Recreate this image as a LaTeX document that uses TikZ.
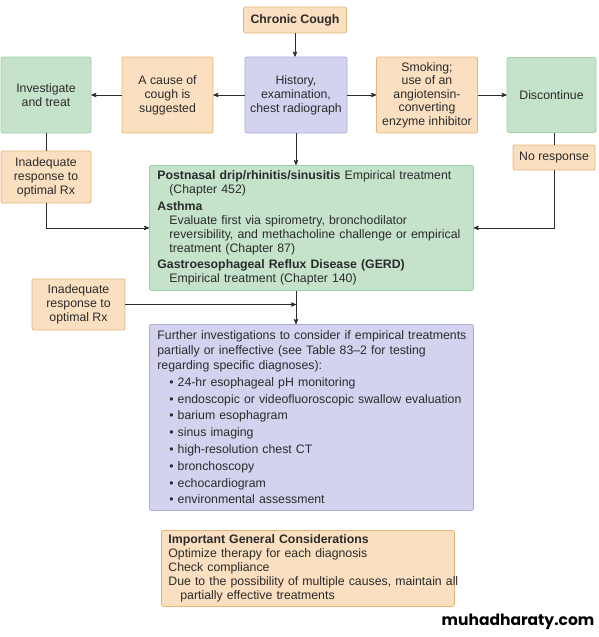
\documentclass[tikz,border=0pt]{standalone}
\usepackage{fontspec}
\setmainfont{Liberation Sans}
\newfontfamily\wmfont{Poppins}
\usetikzlibrary{positioning, arrows, shapes}
\definecolor{peach}{HTML}{FADFC0}
\definecolor{peachline}{HTML}{E5B57E}
\definecolor{mint}{HTML}{C5E3CB}
\definecolor{mintline}{HTML}{A3CFAD}
\definecolor{lilac}{HTML}{D3D3EF}
\definecolor{lilacline}{HTML}{ABABD6}
\definecolor{ink}{HTML}{2B2B2B}
\tikzset{>=stealth',
  box/.style={rounded corners=2pt, line width=0.8pt, text=ink, inner sep=0pt, align=center, font=\fontsize{12.3}{14}\selectfont},
  peachbox/.style={box, draw=peachline, fill=peach},
  mintbox/.style={box, draw=mintline, fill=mint},
  lilacbox/.style={box, draw=lilacline, fill=lilac},
  link/.style={draw=ink, line width=0.8pt}}

\begin{document}
\begin{tikzpicture}[x=1pt, y=-1pt]
    \useasboundingbox (0,0) rectangle (598,637);
    % top row
    \node[peachbox, minimum width=103pt, minimum height=26pt] (cough) at (295,20) {\bfseries Chronic Cough};
    \node[lilacbox, minimum width=102pt, minimum height=76pt] (history) at (296,95) {History,\\examination,\\chest radiograph};
    \node[peachbox, minimum width=91pt, minimum height=76pt] (cause) at (167.5,95) {A cause of\\cough is\\suggested};
    \node[mintbox, minimum width=90pt, minimum height=76pt] (treat) at (46,95) {Investigate\\and treat};
    \node[peachbox, minimum width=101pt, minimum height=76pt, font=\fontsize{12.3}{13.5}\selectfont] (smoking) at (427,95) {Smoking;\\use of an\\angiotensin-\\converting\\enzyme inhibitor};
    \node[mintbox, minimum width=89pt, minimum height=75pt] (discont) at (551.5,95) {Discontinue};
    \node[peachbox, minimum width=82pt, minimum height=25pt] (noresp) at (554,157.5) {No response};
    \node[peachbox, minimum width=90pt, minimum height=52pt] (inadqA) at (46,177) {Inadequate\\response to\\optimal Rx};
    % empirical treatments
    \node[mintbox, anchor=north west, minimum height=125pt, text width=320pt, inner xsep=2pt, align=left] (empirical) at (149,165) {\leftskip=6pt
        \textbf{Postnasal drip/rhinitis/sinusitis} Empirical treatment\\
        \hspace*{12pt}(Chapter 452)\\[2.5pt]
        \textbf{Asthma}\\
        \hspace*{12pt}Evaluate first via spirometry, bronchodilator\\
        \hspace*{12pt}reversibility, and methacholine challenge or empirical\\
        \hspace*{12pt}treatment (Chapter 87)\\[2.5pt]
        \textbf{Gastroesophageal Reflux Disease (GERD)}\\
        \hspace*{12pt}Empirical treatment (Chapter 140)\par};
    \node[peachbox, minimum width=93pt, minimum height=51pt] (inadqB) at (78.5,304.5) {Inadequate\\response to\\optimal Rx};
    % further tests
    \node[lilacbox, anchor=north west, minimum height=186pt, text width=320pt, inner xsep=2pt, align=left, font=\fontsize{12.3}{15}\selectfont] (further) at (149,324) {\leftskip=6pt
        Further investigations to consider if empirical treatments\\
        partially or ineffective (see Table 83--2 for testing\\
        regarding specific diagnoses):\\[1.5pt]
        \hspace*{12pt}•\hspace{4pt}24-hr esophageal pH monitoring\\[1.8pt]
        \hspace*{12pt}•\hspace{4pt}endoscopic or videofluoroscopic swallow evaluation\\[1.8pt]
        \hspace*{12pt}•\hspace{4pt}barium esophagram\\[1.8pt]
        \hspace*{12pt}•\hspace{4pt}sinus imaging\\[1.8pt]
        \hspace*{12pt}•\hspace{4pt}high-resolution chest CT\\[1.8pt]
        \hspace*{12pt}•\hspace{4pt}bronchoscopy\\[1.8pt]
        \hspace*{12pt}•\hspace{4pt}echocardiogram\\[1.8pt]
        \hspace*{12pt}•\hspace{4pt}environmental assessment\par};
    \node[peachbox, anchor=north west, minimum height=76pt, text width=306pt, inner xsep=-6.5pt, align=left] (general) at (161,530) {\leftskip=13.5pt
        \textbf{Important General Considerations}\\
        Optimize therapy for each diagnosis\\
        Check compliance\\
        Due to the possibility of multiple causes, maintain all\\
        \hspace*{12pt}partially effective treatments\par};
    \node[font=\wmfont\bfseries\fontsize{15.5}{16}\selectfont, text=black] (site) at (518,622) {muhadharaty.com};
    % connectors
    \draw[link, ->] (cough.south) -- (cough.south |- history.north);
    \draw[link, ->] (history) -- (cause);
    \draw[link, ->] (cause) -- (treat);
    \draw[link, ->] (history) -- (smoking);
    \draw[link, ->] (smoking) -- (discont);
    \draw[link, ->] (history.south) -- (history.south |- empirical.north);
    \draw[link] (treat) -- (inadqA);
    \draw[link, ->] (inadqA.south) |- (empirical.west);
    \draw[link] (noresp.north) -- (noresp.north |- discont.south);
    \draw[link, ->] (noresp.south) |- (empirical.east);
    \draw[link, ->] (empirical.south -| history.south) -- (further.north -| history.south);
    \coordinate (merge) at (history.south |- inadqB.east);
    \draw[link, ->] (inadqB.east) -- (merge);
\end{tikzpicture}
\end{document}
